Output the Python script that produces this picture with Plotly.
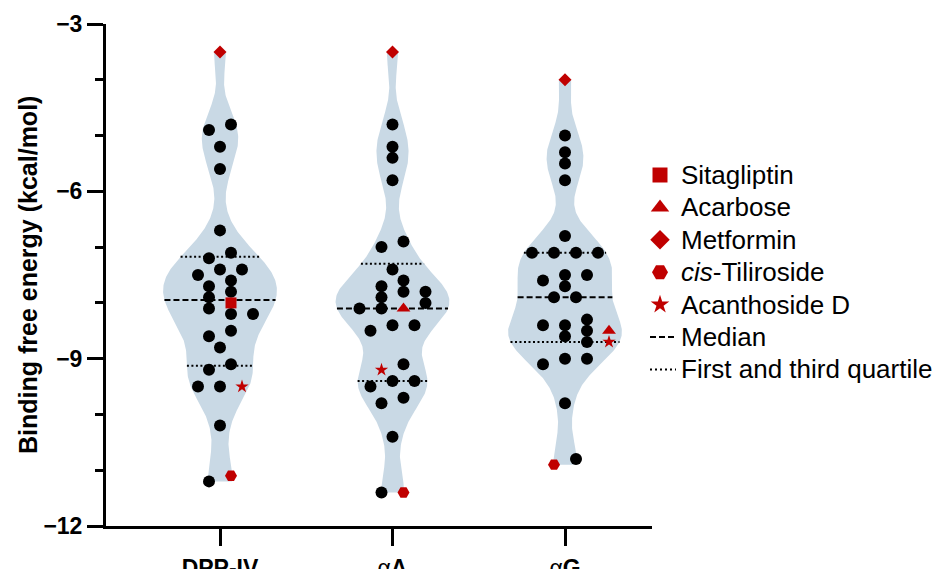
import numpy as np
import plotly.graph_objects as go

# ---------------- data (kcal/mol) ----------------
targets = ["DPP-IV", "αA", "αG"]

dpp4_ligands = [-4.8, -4.9, -5.2, -5.6, -6.7, -7.1, -7.2, -7.4, -7.4, -7.5, -7.6, -7.7, -7.8,
                -7.9, -8.1, -8.2, -8.2, -8.5, -8.6, -8.8, -9.1, -9.2, -9.5, -9.5, -10.2, -11.2]
alphaA_ligands = [-4.8, -5.2, -5.4, -5.8, -6.9, -7.0, -7.4, -7.6, -7.7, -7.8, -7.8, -7.9, -8.0,
                  -8.1, -8.1, -8.4, -8.4, -8.5, -9.1, -9.4, -9.4, -9.5, -9.7, -9.8, -10.4, -11.4]
alphaG_ligands = [-5.0, -5.3, -5.5, -5.8, -6.8, -7.1, -7.1, -7.1, -7.1, -7.5, -7.5, -7.6, -7.7,
                  -7.9, -7.9, -8.3, -8.4, -8.4, -8.5, -8.6, -8.7, -9.0, -9.0, -9.1, -9.8, -10.8]

reference_names = ["Sitagliptin", "Acarbose", "Metformin", "cis-Tiliroside", "Acanthoside D"]
dpp4_references = [-8.0, None, -3.5, -11.1, -9.5]
alphaA_references = [None, -8.1, -3.5, -11.4, -9.2]
alphaG_references = [None, -8.5, -4.0, -10.9, -8.7]

y_ticks = [-12, -9, -6, -3]

# ---------------- styles ----------------
FONT = "Liberation Sans, Arial, Helvetica, sans-serif"
RED = "#C00000"
VIOLIN = "#C9D9E5"
ref_symbols = ["square", "triangle-up", "diamond", "hexagon2", "star"]
ref_sizes = [11, 12, 10, 12, 10]
legend_sizes = [15, 16, 15, 16, 14]

# geometry, in window pixels (the page body adds an 8px offset)
OFF = 8
WIN_W, WIN_H = 942, 569
W, H = WIN_W - OFF, WIN_H - OFF
AX_LEFT, AX_TOP, AX_BOTTOM, AX_RIGHT = 106, 24, 526, 652
ML, MT = AX_LEFT - OFF, AX_TOP - OFF
MB = H - (AX_BOTTOM - OFF)
PW = W - ML
CAT_PX = 172.5
X0_PX = 220
xdom = (AX_RIGHT - AX_LEFT) / PW
xmin = -(X0_PX - AX_LEFT) / CAT_PX
xrange_ = [xmin, xmin + (AX_RIGHT - AX_LEFT) / CAT_PX]

ligands = [dpp4_ligands, alphaA_ligands, alphaG_ligands]
references = [dpp4_references, alphaA_references, alphaG_references]

BW = 0.4
HALF = 0.33
SLOT = 11.0 / CAT_PX


def kde(vals, grid):
    vals = np.asarray(vals, float)
    return np.exp(-0.5 * ((np.asarray(grid)[:, None] - vals[None, :]) / BW) ** 2).sum(axis=1)


def swarm(vals, is_ref):
    """Prism-like scatter: near-equal values form centred rows; rows shift to avoid overlap."""
    vals = np.asarray(vals, float)
    n = len(vals)
    order = sorted(range(n), key=lambda i: (-vals[i], 0 if is_ref[i] else 1))
    rows = []
    for i in order:
        if rows and vals[rows[-1][0]] - vals[i] < 0.15:
            rows[-1].append(i)
        else:
            rows.append([i])
    slots = {}
    for row in rows:
        k = len(row)
        base = [2 * j - (k - 1) for j in range(k)]
        chosen = None
        for m in range(0, 14):
            for s in ([0] if m == 0 else [m, -m]):
                for orient in (1, -1):
                    pos = [s + b for b in base]
                    if orient == 1:
                        pos = pos[::-1]
                    ok = True
                    for i, p in zip(row, pos):
                        for j, pj in slots.items():
                            if abs(vals[i] - vals[j]) < 0.15 and abs(p - pj) < 2:
                                ok = False
                                break
                        if not ok:
                            break
                    if ok:
                        chosen = pos
                        break
                if chosen is not None:
                    break
            if chosen is not None:
                break
        for i, p in zip(row, chosen):
            slots[i] = p
    return np.array([slots[i] for i in range(n)])


fig = go.Figure()

for g, name in enumerate(targets):
    refs = [(k, v) for k, v in enumerate(references[g]) if v is not None]
    nl = len(ligands[g])
    allv = np.array(list(ligands[g]) + [v for _, v in refs], float)
    is_ref = [False] * nl + [True] * len(refs)
    grid = np.linspace(allv.min(), allv.max(), 400)
    dens = kde(allv, grid)
    sc = HALF / dens.max()
    hw = dens * sc
    fig.add_trace(go.Scatter(
        x=np.concatenate([g + hw, (g - hw)[::-1]]),
        y=np.concatenate([grid, grid[::-1]]),
        mode="lines", fill="toself", fillcolor=VIOLIN,
        line=dict(width=0, color=VIOLIN), hoverinfo="skip", showlegend=False))
    # quartiles & median
    q1, med, q3 = np.percentile(allv, [25, 50, 75], method="weibull")
    for qv, dash in [(q1, "2px,2.5px"), (q3, "2px,2.5px"), (med, "6px,3px")]:
        w = kde(allv, [qv])[0] * sc
        fig.add_trace(go.Scatter(x=[g - w, g + w], y=[qv, qv], mode="lines",
                                 line=dict(color="black", width=2, dash=dash),
                                 hoverinfo="skip", showlegend=False))
    slots = swarm(allv, is_ref)
    xs = g + slots * SLOT
    fig.add_trace(go.Scatter(x=xs[:nl], y=allv[:nl], mode="markers",
                             marker=dict(color="black", size=12, opacity=1, line=dict(width=0)),
                             showlegend=False, cliponaxis=False))
    for idx, (k, v) in enumerate(refs):
        fig.add_trace(go.Scatter(x=[xs[nl + idx]], y=[v], mode="markers",
                                 marker=dict(color=RED, size=ref_sizes[k], symbol=ref_symbols[k],
                                             opacity=1, line=dict(width=0)),
                                 showlegend=False, cliponaxis=False))

# ---------------- manual legend on a pixel-coordinate overlay ----------------
row0, rowgap = 175, 32.4
rows = [row0 + i * rowgap for i in range(7)]
LX, TX = 660, 679
fig.add_trace(go.Scatter(x=[LX] * 5, y=rows[:5], mode="markers", xaxis="x2", yaxis="y2",
                         marker=dict(color=RED, size=legend_sizes, symbol=ref_symbols,
                                     opacity=1, line=dict(width=0)),
                         showlegend=False, hoverinfo="skip", cliponaxis=False))
fig.add_trace(go.Scatter(x=[650, 676], y=[rows[5]] * 2, mode="lines", xaxis="x2", yaxis="y2",
                         line=dict(color="black", width=2, dash="6px,3px"),
                         showlegend=False, hoverinfo="skip"))
fig.add_trace(go.Scatter(x=[650, 676], y=[rows[6]] * 2, mode="lines", xaxis="x2", yaxis="y2",
                         line=dict(color="black", width=2, dash="2px,3px"),
                         showlegend=False, hoverinfo="skip"))

legend_labels = [n.replace("cis-", "<i>cis</i>-") for n in reference_names] + \
                ["Median", "First and third quartile"]
annotations = []
for lab, ry in zip(legend_labels, rows):
    annotations.append(dict(x=TX, y=ry, xref="x2", yref="y2", text=lab, showarrow=False,
                            xanchor="left", yanchor="middle",
                            font=dict(family=FONT, size=26, color="black")))
annotations.append(dict(x=(28 - AX_LEFT) / PW, y=0.5, xref="paper", yref="paper",
                        text="Binding free energy (kcal/mol)", textangle=-90, showarrow=False,
                        xanchor="center", yanchor="middle",
                        font=dict(family=FONT, size=25, color="black", weight="bold")))

tick_text = ["<b>DPP-IV</b>",
             "<span style='font-weight:normal'>α</span><b>A</b>",
             "<span style='font-weight:normal'>α</span><b>G</b>"]

fig.update_layout(
    template="none",
    width=W, height=H,
    margin=dict(l=ML, r=0, t=MT, b=MB, pad=0),
    paper_bgcolor="white", plot_bgcolor="rgba(0,0,0,0)",
    showlegend=False,
    font=dict(family=FONT, color="black"),
    xaxis=dict(domain=[0, xdom], range=xrange_, tickvals=[0, 1, 2], ticktext=tick_text,
               showline=True, linewidth=3, linecolor="black", ticks="outside", ticklen=17,
               tickwidth=3, tickcolor="black", showgrid=False, zeroline=False,
               automargin=False, ticklabelstandoff=2,
               tickfont=dict(family=FONT, size=23, color="black")),
    yaxis=dict(domain=[0, 1], range=[-12, -3], tickvals=y_ticks,
               showline=True, linewidth=3, linecolor="black", ticks="outside", ticklen=16,
               tickwidth=3, tickcolor="black", showgrid=False, zeroline=False,
               automargin=False,
               tickfont=dict(family=FONT, size=23, color="black", weight="bold"),
               minor=dict(dtick=1, tick0=-12, ticks="outside", ticklen=8, tickwidth=3,
                          tickcolor="black", showgrid=False)),
    xaxis2=dict(domain=[0, 1], range=[AX_LEFT, WIN_W], anchor="y2", visible=False,
                fixedrange=True),
    yaxis2=dict(domain=[0, 1], range=[AX_BOTTOM, AX_TOP], anchor="x2", visible=False,
                fixedrange=True),
    annotations=annotations,
)

fig.write_html("out.html")
